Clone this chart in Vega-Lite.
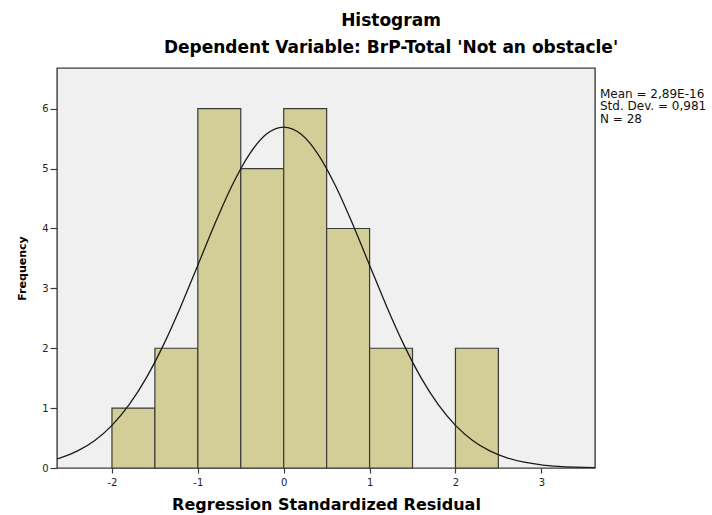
{
  "$schema": "https://vega.github.io/schema/vega-lite/v6.json",
  "width": 538,
  "height": 400,
  "autosize": {"type": "none"},
  "padding": {"left": 57, "top": 68, "right": 117, "bottom": 47},
  "background": "white",
  "config": {
    "font": "DejaVu Sans",
    "view": {"fill": "#F0F0F0", "stroke": "#3c3c3c", "strokeWidth": 1.4},
    "axis": {"grid": false, "domain": false, "tickColor": "#3c3c3c", "tickWidth": 1.2, "labelFont": "DejaVu Sans", "labelFontSize": 10, "labelColor": "#222222", "titleFont": "DejaVu Sans", "titleFontWeight": "bold", "titleColor": "#000000"}
  },
  "title": {
    "text": "Histogram",
    "subtitle": "Dependent Variable: BrP-Total 'Not an obstacle'",
    "anchor": "middle",
    "dx": 65,
    "font": "DejaVu Sans",
    "fontSize": 17,
    "fontWeight": "bold",
    "color": "#000000",
    "subtitleFont": "DejaVu Sans",
    "subtitleFontSize": 17,
    "subtitleFontWeight": "bold",
    "subtitleColor": "#000000",
    "subtitlePadding": 10,
    "offset": 11
  },
  "datasets": {
    "bins": [
      {"start": -2.0, "end": -1.5, "count": 1},
      {"start": -1.5, "end": -1.0, "count": 2},
      {"start": -1.0, "end": -0.5, "count": 6},
      {"start": -0.5, "end": 0.0, "count": 5},
      {"start": 0.0, "end": 0.5, "count": 6},
      {"start": 0.5, "end": 1.0, "count": 4},
      {"start": 1.0, "end": 1.5, "count": 2},
      {"start": 2.0, "end": 2.5, "count": 2}
    ],
    "curve": [
      {"x": -2.64, "y": 0.152},
      {"x": -2.6, "y": 0.1698},
      {"x": -2.4, "y": 0.2855},
      {"x": -2.2, "y": 0.4605},
      {"x": -2.0, "y": 0.7126},
      {"x": -1.8, "y": 1.058},
      {"x": -1.6, "y": 1.506},
      {"x": -1.4, "y": 2.056},
      {"x": -1.2, "y": 2.694},
      {"x": -1.0, "y": 3.387},
      {"x": -0.8, "y": 4.083},
      {"x": -0.6, "y": 4.722},
      {"x": -0.4, "y": 5.239},
      {"x": -0.2, "y": 5.576},
      {"x": 0.0, "y": 5.693},
      {"x": 0.2, "y": 5.576},
      {"x": 0.4, "y": 5.239},
      {"x": 0.6, "y": 4.722},
      {"x": 0.8, "y": 4.083},
      {"x": 1.0, "y": 3.387},
      {"x": 1.2, "y": 2.694},
      {"x": 1.4, "y": 2.056},
      {"x": 1.6, "y": 1.506},
      {"x": 1.8, "y": 1.058},
      {"x": 2.0, "y": 0.7126},
      {"x": 2.2, "y": 0.4605},
      {"x": 2.4, "y": 0.2855},
      {"x": 2.6, "y": 0.1698},
      {"x": 2.8, "y": 0.0969},
      {"x": 3.0, "y": 0.053},
      {"x": 3.2, "y": 0.0278},
      {"x": 3.4, "y": 0.014},
      {"x": 3.625, "y": 0.0062}
    ],
    "stats": [
      {"x": 3.683, "y": 6.25, "label": "Mean = 2,89E-16"},
      {"x": 3.683, "y": 6.04, "label": "Std. Dev. = 0,981"},
      {"x": 3.683, "y": 5.83, "label": "N = 28"}
    ]
  },
  "layer": [
    {
      "data": {"name": "bins"},
      "mark": {"type": "rect", "fill": "#D3CE97", "stroke": "#3a3a3a", "strokeWidth": 1.2},
      "encoding": {
        "x": {"field": "start", "type": "quantitative", "scale": {"domain": [-2.64, 3.625], "nice": false, "zero": false}, "axis": {"values": [-2, -1, 0, 1, 2, 3], "labelExpr": "datum.value", "title": "Regression Standardized Residual", "titleFontSize": 16, "tickSize": 5, "labelPadding": 4, "titlePadding": 9}},
        "x2": {"field": "end"},
        "y": {"field": "count", "type": "quantitative", "scale": {"domain": [0, 6.68], "nice": false, "zero": true}, "axis": {"values": [0, 1, 2, 3, 4, 5, 6], "labelExpr": "datum.value", "title": "Frequency", "titleFontSize": 11, "tickSize": 7, "labelPadding": 2, "titlePadding": 14}},
        "y2": {"datum": 0}
      }
    },
    {
      "data": {"name": "curve"},
      "mark": {"type": "line", "color": "#1a1a1a", "strokeWidth": 1.3, "interpolate": "monotone", "clip": true},
      "encoding": {
        "x": {"field": "x", "type": "quantitative"},
        "y": {"field": "y", "type": "quantitative"}
      }
    },
    {
      "data": {"name": "stats"},
      "mark": {"type": "text", "align": "left", "baseline": "middle", "fontSize": 12, "font": "DejaVu Sans", "color": "#111111", "clip": false},
      "encoding": {
        "x": {"field": "x", "type": "quantitative"},
        "y": {"field": "y", "type": "quantitative"},
        "text": {"field": "label"}
      }
    }
  ]
}
